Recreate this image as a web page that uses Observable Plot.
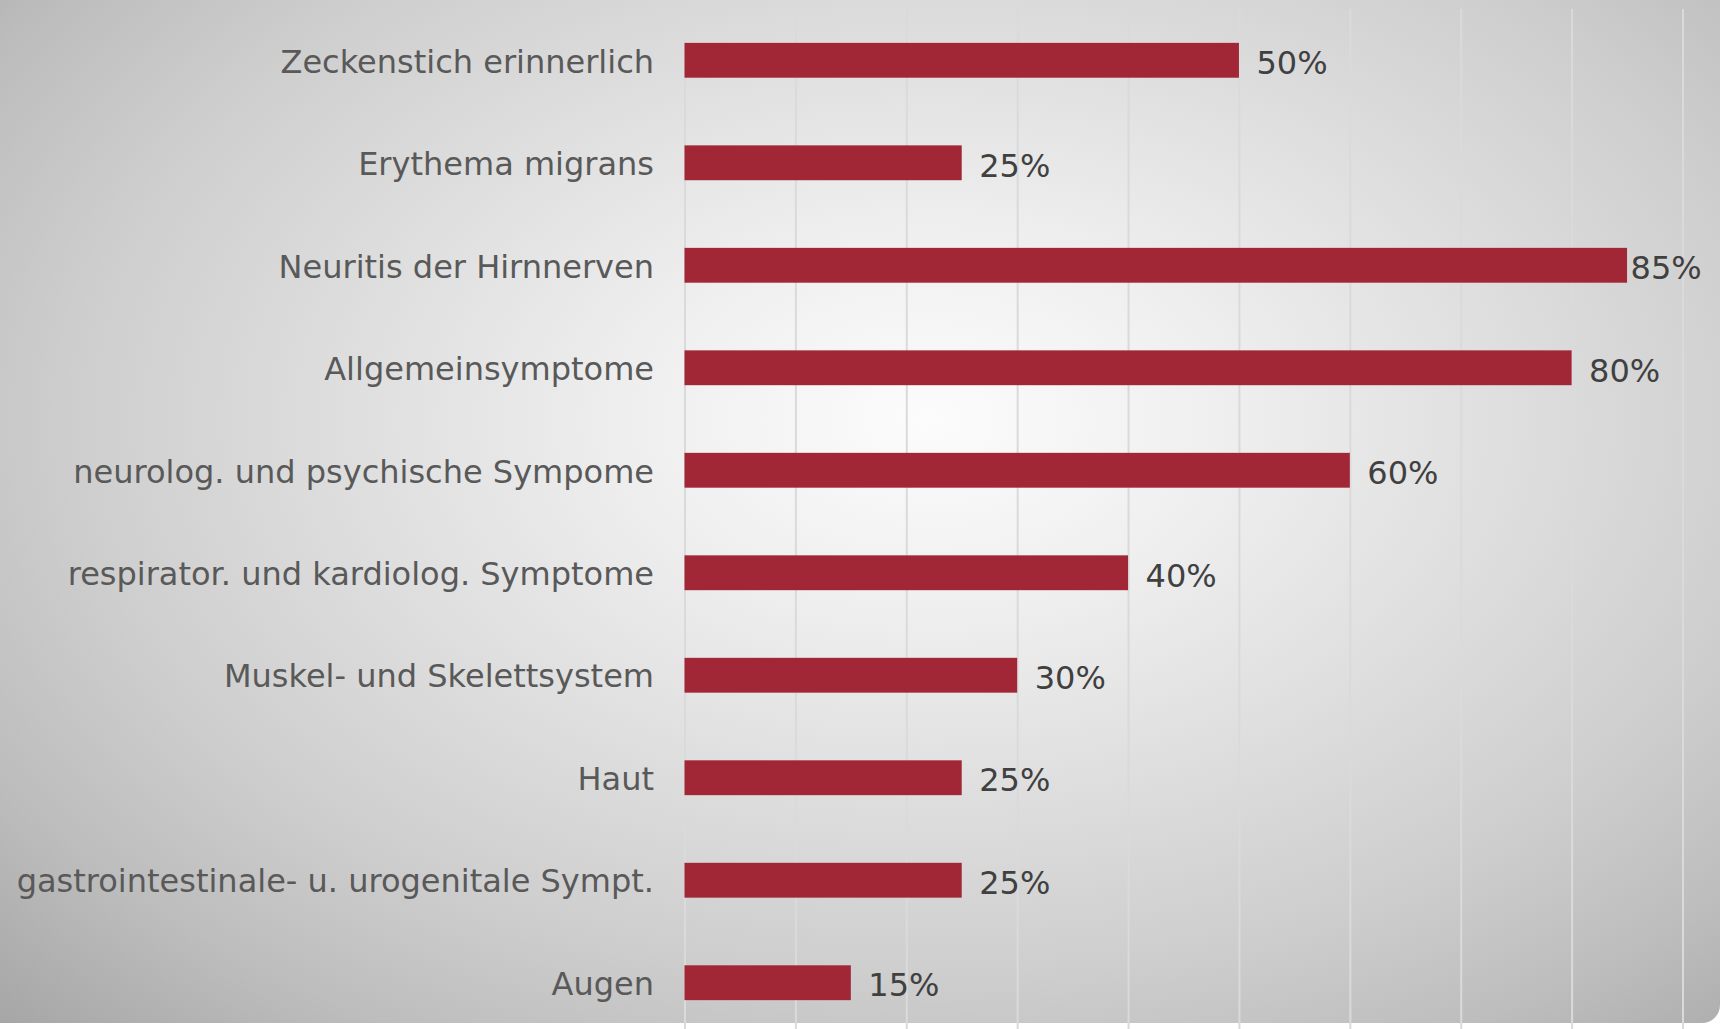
<!DOCTYPE html>
<html>
<head>
<meta charset="utf-8">
<script src="https://cdn.jsdelivr.net/npm/d3@7"></script>
<script src="https://cdn.jsdelivr.net/npm/@observablehq/plot@0.6"></script>
<style>
  html, body { margin: 0; padding: 0; background: #ffffff; }
  #wrap { position: relative; width: 1720px; height: 1029px; overflow: hidden; }
  #bg {
    position: absolute; left: 0; top: 0; width: 1720px; height: 1023px;
    border-bottom-right-radius: 18px;
    background: radial-gradient(farthest-corner at 54% 41%, #fcfcfc 0%, #efefef 22%, #e0e0e0 42%, #cecece 65%, #bdbdbd 82%, #a6a6a6 100%);
  }
  #chart { position: absolute; left: 0; top: 0; }
  svg { font-family: "DejaVu Sans", Verdana, sans-serif; }
</style>
</head>
<body>
<div id="wrap"><div id="bg"></div><div id="chart"></div></div>
<script>
const categories = [
  "Zeckenstich erinnerlich",
  "Erythema migrans",
  "Neuritis der Hirnnerven",
  "Allgemeinsymptome",
  "neurolog. und psychische Sympome",
  "respirator. und kardiolog. Symptome",
  "Muskel- und Skelettsystem",
  "Haut",
  "gastrointestinale- u. urogenitale Sympt.",
  "Augen"
];
const values = [0.50, 0.25, 0.85, 0.80, 0.60, 0.40, 0.30, 0.25, 0.25, 0.15];
const valueLabels = ["50%", "25%", "85%", "80%", "60%", "40%", "30%", "25%", "25%", "15%"];
const xTicks = [0, 0.1, 0.2, 0.3, 0.4, 0.5, 0.6, 0.7, 0.8, 0.9];

const data = categories.map((c, i) => ({category: c, value: values[i], label: valueLabels[i]}));

const chart = Plot.plot({
  width: 1720,
  height: 1029,
  marginLeft: 684.5,
  marginRight: 37.5,
  marginTop: 9,
  marginBottom: 0,
  style: {background: "transparent", fontFamily: "DejaVu Sans, Verdana, sans-serif"},
  x: {domain: [0, 0.9], axis: null},
  y: {domain: categories, paddingInner: 0.66, paddingOuter: 0.306, align: 0.54, round: false, label: null},
  marks: [
    Plot.ruleX(xTicks, {stroke: "#dadada", strokeWidth: 2}),
    Plot.barX(data, {x: "value", y: "category", fill: "#a12737"}),
    Plot.text(data.filter(d => d.value < 0.85), {
      x: "value", y: "category", text: "label", textAnchor: "start",
      dx: 17, dy: 3, fontSize: 32, fill: "#404040"
    }),
    Plot.text(data.filter(d => d.value >= 0.85), {
      x: "value", y: "category", text: "label", textAnchor: "start",
      dx: 3, dy: 3, fontSize: 32, fill: "#404040"
    }),
    Plot.axisY({tickSize: 0, tickPadding: 31, fontSize: 32, color: "#595959", label: null, dy: 1.5})
  ]
});
document.getElementById("chart").appendChild(chart);
</script>
</body>
</html>
